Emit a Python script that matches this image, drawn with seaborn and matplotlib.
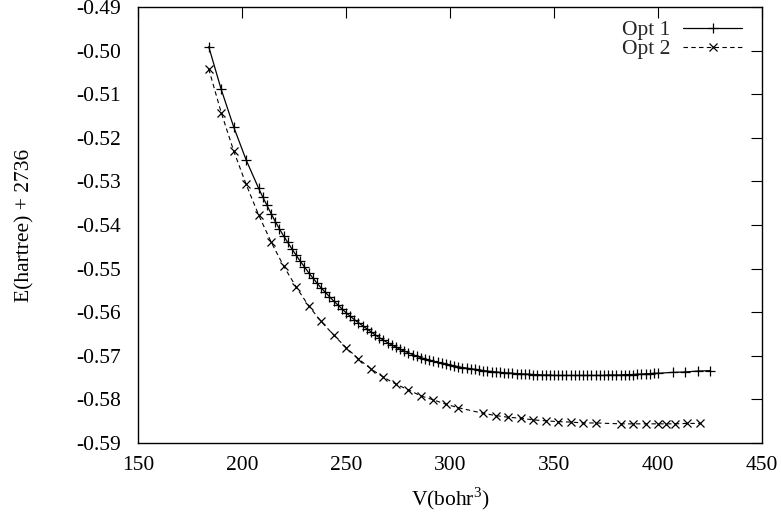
import matplotlib
matplotlib.use("Agg")
import matplotlib.pyplot as plt
import seaborn as sns

# Opt 1: volume (bohr^3) and energy (hartree) + 2736
v_opt1 = [184, 190, 196, 202, 208,
          210, 212, 214, 216, 218, 220, 222, 224, 226, 228,
          230, 232, 234, 236, 238, 240, 242, 244, 246, 248,
          250, 252, 254, 256, 258, 260, 262, 264, 266, 268,
          270, 272, 274, 276, 278, 280, 282, 284, 286, 288,
          290, 292, 294, 296, 298, 300, 302, 304, 306, 308,
          310, 312, 314, 316, 318, 320, 322, 324, 326, 328,
          330, 332, 334, 336, 338, 340, 342, 344, 346, 348,
          350, 352, 354, 356, 358, 360, 362, 364, 366, 368,
          370, 372, 374, 376, 378, 380, 382, 384, 386, 388,
          390, 392, 394, 396, 398, 400,
          407, 413, 419, 425]
e_opt1 = [-0.4991, -0.5089, -0.5175, -0.5251, -0.5316,
          -0.5336, -0.5355, -0.5374, -0.5392, -0.5409, -0.5425, -0.5440, -0.5455, -0.5469, -0.5483,
          -0.5496, -0.5509, -0.5521, -0.5533, -0.5544, -0.5554, -0.5564, -0.5574, -0.5583, -0.5592,
          -0.5601, -0.5609, -0.5617, -0.5624, -0.5631, -0.5638, -0.5645, -0.5652, -0.5658, -0.5664,
          -0.5670, -0.5675, -0.5680, -0.5685, -0.5689, -0.5693, -0.5697, -0.5701, -0.5704, -0.5707,
          -0.5710, -0.5713, -0.5715, -0.5717, -0.5719, -0.5721, -0.5723, -0.5725, -0.5727, -0.5728,
          -0.5730, -0.5731, -0.5732, -0.5734, -0.5735, -0.5736, -0.5737, -0.5738, -0.5739, -0.5739,
          -0.5740, -0.5741, -0.5741, -0.5742, -0.5742, -0.5743, -0.5743, -0.5744, -0.5744, -0.5744,
          -0.5745, -0.5745, -0.5745, -0.5745, -0.5745, -0.5745, -0.5745, -0.5745, -0.5745, -0.5745,
          -0.5745, -0.5745, -0.5745, -0.5744, -0.5744, -0.5744, -0.5744, -0.5743, -0.5743, -0.5743,
          -0.5742, -0.5742, -0.5741, -0.5741, -0.5740, -0.5740,
          -0.5738, -0.5737, -0.5735, -0.5734]

# Opt 2
v_opt2 = [184, 190, 196, 202, 208, 214, 220, 226, 232, 238,
          244, 250, 256, 262, 268, 274, 280, 286, 292, 298,
          304, 316, 322, 328, 334, 340, 346, 352, 358, 364,
          370, 382, 388, 394, 400, 404, 408, 414, 420]
e_opt2 = [-0.5042, -0.5142, -0.5230, -0.5307, -0.5377, -0.5439, -0.5494, -0.5542, -0.5585, -0.5621,
          -0.5652, -0.5681, -0.5707, -0.5730, -0.5749, -0.5765, -0.5778, -0.5792, -0.5801, -0.5811,
          -0.5819, -0.5832, -0.5837, -0.5841, -0.5843, -0.5847, -0.5849, -0.5851, -0.5852, -0.5854,
          -0.5854, -0.5856, -0.5856, -0.5856, -0.5856, -0.5856, -0.5856, -0.5855, -0.5855]

x_ticks = [150, 200, 250, 300, 350, 400, 450]
y_ticks = [-0.59, -0.58, -0.57, -0.56, -0.55, -0.54, -0.53, -0.52, -0.51, -0.50, -0.49]
y_labels = ["-0.59", "-0.58", "-0.57", "-0.56", "-0.55", "-0.54",
            "-0.53", "-0.52", "-0.51", "-0.50", "-0.49"]

sns.set_theme(style="white")
plt.rcParams["font.family"] = ["Liberation Serif", "DejaVu Serif"]
plt.rcParams["mathtext.fontset"] = "custom"
plt.rcParams["mathtext.rm"] = "Liberation Serif"
plt.rcParams["axes.unicode_minus"] = False
FS = 15.5

fig = plt.figure(figsize=(7.81, 5.19), dpi=100)
ax = fig.add_axes([0.1767, 0.1464, 0.7990, 0.8401])

sns.lineplot(x=v_opt1, y=e_opt1, ax=ax, color="black", lw=0.9,
             marker="+", markersize=7, markeredgecolor="black",
             markeredgewidth=0.9, label="Opt 1")
sns.lineplot(x=v_opt2, y=e_opt2, ax=ax, color="black", lw=0.8,
             dashes=(4, 3), marker="x", markersize=6, markeredgecolor="black",
             markeredgewidth=0.9, label="Opt 2")

ax.set_xlim(150, 450)
ax.set_ylim(-0.59, -0.49)
ax.set_xticks(x_ticks)
ax.set_xticklabels([str(t) for t in x_ticks], fontsize=FS)
ax.set_yticks(y_ticks)
ax.set_yticklabels(y_labels, fontsize=FS)
ax.tick_params(direction="in", top=True, right=True, length=8, width=0.8,
               color="black", labelcolor="black")
ax.tick_params(axis="y", pad=12)
ax.tick_params(axis="x", pad=9)
for s in ax.spines.values():
    s.set_color("black")
    s.set_linewidth(1.0)

ax.set_xlabel(r"V(bohr$^3$)", fontsize=FS, color="black", labelpad=8)
ax.set_ylabel("E(hartree) + 2736", fontsize=FS, color="black", labelpad=30)

ax.legend(loc="upper right", frameon=False, markerfirst=False, fontsize=FS,
          handlelength=2.75, handletextpad=0.6, labelspacing=-0.05,
          borderaxespad=0.0, bbox_to_anchor=(0.982, 0.99))

fig.savefig("out.png", dpi=100)
